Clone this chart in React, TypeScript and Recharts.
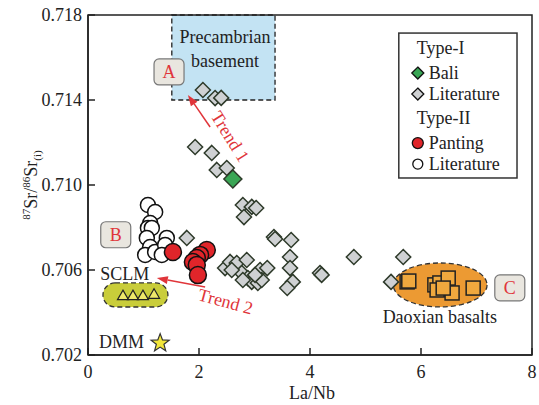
import React from 'react';
import {
  ScatterChart, Scatter, XAxis, YAxis, ReferenceArea, ReferenceDot, ReferenceLine,
} from 'recharts';

const FONT = '"Liberation Serif", "Times New Roman", serif';

// ---- data ----
const xTicks = [0, 2, 4, 6, 8];
const yTicks = [0.702, 0.706, 0.71, 0.714, 0.718];

const typeILiterature: [number, number][] = [
  [2.07, 0.71447], [2.29, 0.71409], [2.4, 0.7141],
  [1.93, 0.71179], [2.23, 0.71151], [2.32, 0.71071], [2.5, 0.7108],
  [2.79, 0.70906], [2.95, 0.70897], [3.03, 0.70892], [2.81, 0.70849],
  [1.78, 0.70751], [3.35, 0.70755], [3.37, 0.70746], [3.66, 0.70741],
  [2.47, 0.70609], [2.56, 0.70638], [2.68, 0.70633], [2.86, 0.70647],
  [2.77, 0.70586], [2.88, 0.70562], [2.95, 0.70544], [3.06, 0.70539],
  [3.1, 0.706], [3.23, 0.70609], [2.59, 0.706], [2.79, 0.70553],
  [3.13, 0.70553], [3.01, 0.70577],
  [3.64, 0.70661], [3.64, 0.70609], [3.69, 0.70544], [3.59, 0.70515],
  [4.18, 0.70586], [4.21, 0.70577], [4.79, 0.70661], [5.68, 0.70661], [5.46, 0.70544],
];
const typeIBali: [number, number][] = [[2.61, 0.71028]];
const typeIILiterature: [number, number][] = [
  [1.08, 0.70906], [1.21, 0.70873], [1.12, 0.70821], [1.08, 0.70798], [1.15, 0.70798],
  [1.06, 0.70751], [1.12, 0.70708], [1.03, 0.70671], [1.21, 0.70685],
  [1.42, 0.70751], [1.39, 0.70718], [1.33, 0.70671],
];
const typeIIPanting: [number, number][] = [
  [1.53, 0.70685], [2.14, 0.70694], [2.02, 0.70671], [1.96, 0.70656],
  [1.89, 0.70638], [1.96, 0.70624], [1.98, 0.70576],
];
const daoxian: [number, number][] = [
  [5.75, 0.70544], [5.78, 0.70548], [6.25, 0.7053], [6.34, 0.70539], [6.49, 0.70562],
  [6.29, 0.70506], [6.56, 0.70492], [6.94, 0.70515], [6.4, 0.70515],
];
const sclm: [number, number][] = [[0.63, 0.70482], [0.81, 0.70482], [0.99, 0.70482], [1.19, 0.70488]];
const dmm: [number, number][] = [[1.3, 0.70256]];

const toPts = (a: [number, number][]) => a.map(([x, y]) => ({ x, y }));

// annotation anchors (data coords)
const basement = { x1: 1.51, x2: 3.37, y1: 0.714, y2: 0.718 };
const sclmField = { x1: 0.27, x2: 1.44, y1: 0.70426, y2: 0.70539 };
const daoxianField = { x1: 5.5, x2: 7.19, y1: 0.70426, y2: 0.70633 };
const legendBox = { x1: 5.6, x2: 7.73, y1: 0.71033, y2: 0.71715 };
const boxLabels = [
  { t: 'A', x: 1.46, y: 0.71532 },
  { t: 'B', x: 0.5, y: 0.70766 },
  { t: 'C', x: 7.6, y: 0.70516 },
];
const trend1 = [{ x: 2.2, y: 0.71273 }, { x: 1.8, y: 0.71424 }];
const trend2 = [{ x: 2.11, y: 0.7052 }, { x: 1.24, y: 0.70562 }];

// ---- shapes ----
const Diamond = (fill: string, h = 7.5) => (p: any) => (
  <path
    d={`M${p.cx},${p.cy - h}L${p.cx + h},${p.cy}L${p.cx},${p.cy + h}L${p.cx - h},${p.cy}Z`}
    fill={fill} stroke="#2e3a2a" strokeWidth={1.5}
  />
);
const Circle = (fill: string, r = 7.5) => (p: any) => (
  <circle cx={p.cx} cy={p.cy} r={r} fill={fill} stroke="#111" strokeWidth={1.5} />
);
const Square = (p: any) => (
  <rect x={p.cx - 7} y={p.cy - 7} width={14} height={14} fill="#f0a83e" stroke="#222" strokeWidth={1.5} />
);
const Triangle = (p: any) => (
  <path d={`M${p.cx},${p.cy - 5}L${p.cx + 5.5},${p.cy + 4.5}L${p.cx - 5.5},${p.cy + 4.5}Z`}
    fill="#eee86a" stroke="#222" strokeWidth={1.2} />
);
const Star = (p: any) => {
  const pts: string[] = [];
  for (let i = 0; i < 10; i++) {
    const r = i % 2 === 0 ? 9.5 : 4;
    const a = -Math.PI / 2 + (i * Math.PI) / 5;
    pts.push(`${p.cx + r * Math.cos(a)},${p.cy + r * Math.sin(a)}`);
  }
  return <polygon points={pts.join(' ')} fill="#f2e63a" stroke="#333" strokeWidth={1.2} />;
};

const YTick = (p: any) => {
  const { x, y, payload } = p;
  return (
    <g>
      <line x1={x} y1={y} x2={x + 7} y2={y} stroke="#222" strokeWidth={1.5} />
      <text x={x - 6} y={y} dy="0.36em" textAnchor="end" fontFamily={FONT} fontSize={18} fill="#222">
        {Number(payload.value).toFixed(3)}
      </text>
    </g>
  );
};
const XTick = (p: any) => {
  const { x, y, payload } = p;
  return (
    <g>
      <line x1={x} y1={y} x2={x} y2={y - 7} stroke="#222" strokeWidth={1.5} />
      <text x={x} y={y + 23} textAnchor="middle" fontFamily={FONT} fontSize={18} fill="#222">
        {payload.value}
      </text>
    </g>
  );
};

const YLabel = (p: any) => {
  const vb = p.viewBox || { x: 0, y: 15, width: 88, height: 340 };
  const cx = vb.x + 37;
  const cy = vb.y + 170;
  return (
    <text transform={`translate(${cx},${cy}) rotate(-90)`} textAnchor="middle" fontFamily={FONT} fill="#222" fontSize={18}>
      <tspan fontSize={11} dy={-7}>87</tspan>
      <tspan dy={7}>Sr/</tspan>
      <tspan fontSize={11} dy={-7}>86</tspan>
      <tspan dy={7}>Sr</tspan>
      <tspan fontSize={11} dy={4}>(i)</tspan>
    </text>
  );
};
const XLabel = (p: any) => {
  const vb = p.viewBox || { x: 88, y: 355, width: 444, height: 50 };
  return (
    <text x={vb.x + vb.width / 2 + 2} y={vb.y + 44} textAnchor="middle" fontFamily={FONT} fontSize={18} fill="#222">
      La/Nb
    </text>
  );
};

const textShape = (lines: string[], opts: { anchor?: string; dy?: number[]; color?: string; size?: number; rotate?: number }) =>
  (p: any) => (
    <text
      x={p.cx} y={p.cy}
      textAnchor={(opts.anchor as any) || 'middle'}
      fontFamily={FONT} fontSize={opts.size || 18} fill={opts.color || '#222'}
      transform={opts.rotate ? `rotate(${opts.rotate},${p.cx},${p.cy})` : undefined}
    >
      {lines.map((l, i) => (
        <tspan key={i} x={p.cx} dy={opts.dy ? opts.dy[i] : 0}>{l}</tspan>
      ))}
    </text>
  );

const boxLabelShape = (t: string) => (p: any) => (
  <g>
    <rect x={p.cx - 15} y={p.cy - 13} width={30} height={26} rx={5} fill="#e9e6df" stroke="#777" strokeWidth={1.2} />
    <text x={p.cx} y={p.cy} dy="0.36em" textAnchor="middle" fontFamily={FONT} fontSize={18} fill="#e0353a">{t}</text>
  </g>
);

const arrowShape = (p: any) => {
  const { x1, y1, x2, y2 } = p;
  if ([x1, y1, x2, y2].some((v) => v == null || isNaN(v))) return <g />;
  const ang = Math.atan2(y2 - y1, x2 - x1);
  const L = 11, W = 4;
  const bx = x2 - L * Math.cos(ang), by = y2 - L * Math.sin(ang);
  const px = -Math.sin(ang) * W, py = Math.cos(ang) * W;
  return (
    <g>
      <line x1={x1} y1={y1} x2={bx} y2={by} stroke="#e0353a" strokeWidth={1.5} />
      <polygon points={`${x2},${y2} ${bx + px},${by + py} ${bx - px},${by - py}`} fill="#e0353a" />
    </g>
  );
};

const ellipseShape = (p: any) => (
  <ellipse cx={p.x + p.width / 2} cy={p.y + p.height / 2} rx={p.width / 2} ry={p.height / 2}
    fill="#ec9a33" stroke="#333" strokeWidth={1.3} strokeDasharray="5 3" />
);
const roundRectShape = (p: any) => (
  <rect x={p.x} y={p.y} width={p.width} height={p.height} rx={12} ry={12}
    fill="#c9cd3a" stroke="#333" strokeWidth={1.3} strokeDasharray="5 3" />
);

const legendShape = (p: any) => {
  const x = p.x, y = p.y;
  const t = (tx: number, ty: number, s: string) => (
    <text x={x + tx} y={y + ty} fontFamily={FONT} fontSize={18} fill="#222">{s}</text>
  );
  const dia = (cx: number, cy: number, fill: string) => (
    <path d={`M${x + cx},${y + cy - 6}L${x + cx + 6},${y + cy}L${x + cx},${y + cy + 6}L${x + cx - 6},${y + cy}Z`} fill={fill} stroke="#111" strokeWidth={1.3} />
  );
  return (
    <g>
      <rect x={x} y={y} width={p.width} height={p.height} fill="#fff" stroke="#333" strokeWidth={1.5} />
      {t(18, 21, 'Type-I')}
      {dia(19, 40, '#3aa655')}
      {t(30, 46, 'Bali')}
      {dia(19, 61, '#cfd1d3')}
      {t(30, 67, 'Literature')}
      {t(18, 91, 'Type-II')}
      <circle cx={x + 19} cy={y + 110} r={5.5} fill="#e0252a" stroke="#111" strokeWidth={1.3} />
      {t(30, 116, 'Panting')}
      <circle cx={x + 19} cy={y + 131} r={5} fill="#fff" stroke="#111" strokeWidth={1.3} />
      {t(30, 137, 'Literature')}
    </g>
  );
};

export default function App() {
  return (
    <div style={{ position: 'absolute', left: 0, top: 0, background: '#fff' }}>
      <ScatterChart width={539} height={405} margin={{ top: 15, right: 7, bottom: 0, left: 0 }}>
        <XAxis
          type="number" dataKey="x" domain={[0, 8]} ticks={xTicks} allowDataOverflow
          height={50} tickSize={0} tickMargin={0} tickLine={false}
          axisLine={{ stroke: '#222', strokeWidth: 1.5 }} tick={<XTick />} label={<XLabel />}
        />
        <YAxis
          type="number" dataKey="y" domain={[0.702, 0.718]} ticks={yTicks} allowDataOverflow
          width={88} tickSize={0} tickMargin={0} tickLine={false}
          axisLine={{ stroke: '#222', strokeWidth: 1.5 }} tick={<YTick />} label={<YLabel />}
        />
        <ReferenceArea x1={basement.x1} x2={basement.x2} y1={basement.y1} y2={basement.y2}
          fill="#c3e3f3" fillOpacity={1} stroke="#222" strokeWidth={1.3} strokeDasharray="5 3" />
        <ReferenceArea x1={sclmField.x1} x2={sclmField.x2} y1={sclmField.y1} y2={sclmField.y2} shape={roundRectShape} />
        <ReferenceArea x1={daoxianField.x1} x2={daoxianField.x2} y1={daoxianField.y1} y2={daoxianField.y2} shape={ellipseShape} />
        <ReferenceArea x1={0} x2={8} y1={0.702} y2={0.718} fill="none" fillOpacity={0} stroke="#222" strokeWidth={1.5} />
        <ReferenceArea x1={legendBox.x1} x2={legendBox.x2} y1={legendBox.y1} y2={legendBox.y2} shape={legendShape} />

        <ReferenceDot x={2.47} y={0.71635} r={0} shape={textShape(['Precambrian', 'basement'], { dy: [-7, 24] })} />
        <ReferenceDot x={0.22} y={0.70553} r={0} shape={textShape(['SCLM'], { anchor: 'start' })} />
        <ReferenceDot x={0.2} y={0.70233} r={0} shape={textShape(['DMM'], { anchor: 'start' })} />
        <ReferenceDot x={6.34} y={0.70351} r={0} shape={textShape(['Daoxian basalts'], {})} />
        <ReferenceDot x={2.56} y={0.71228} r={0} shape={textShape(['Trend 1'], { color: '#e0353a', rotate: 58, dy: [6] })} />
        <ReferenceDot x={2.48} y={0.70452} r={0} shape={textShape(['Trend 2'], { color: '#e0353a', rotate: 15, dy: [6] })} />
        {boxLabels.map((b) => (
          <ReferenceDot key={b.t} x={b.x} y={b.y} r={0} shape={boxLabelShape(b.t)} />
        ))}
        <ReferenceLine segment={trend1} shape={arrowShape} />
        <ReferenceLine segment={trend2} shape={arrowShape} />

        <Scatter name="Type-I Literature" data={toPts(typeILiterature)} shape={Diamond('#cfd1d3')} isAnimationActive={false} />
        <Scatter name="Type-I Bali" data={toPts(typeIBali)} shape={Diamond('#3aa655', 9)} isAnimationActive={false} />
        <Scatter name="Type-II Literature" data={toPts(typeIILiterature)} shape={Circle('#ffffff', 7.5)} isAnimationActive={false} />
        <Scatter name="Type-II Panting" data={toPts(typeIIPanting)} shape={Circle('#e0252a', 8.5)} isAnimationActive={false} />
        <Scatter name="Daoxian basalts" data={toPts(daoxian)} shape={Square} isAnimationActive={false} />
        <Scatter name="SCLM" data={toPts(sclm)} shape={Triangle} isAnimationActive={false} />
        <Scatter name="DMM" data={toPts(dmm)} shape={Star} isAnimationActive={false} />
      </ScatterChart>
    </div>
  );
}
